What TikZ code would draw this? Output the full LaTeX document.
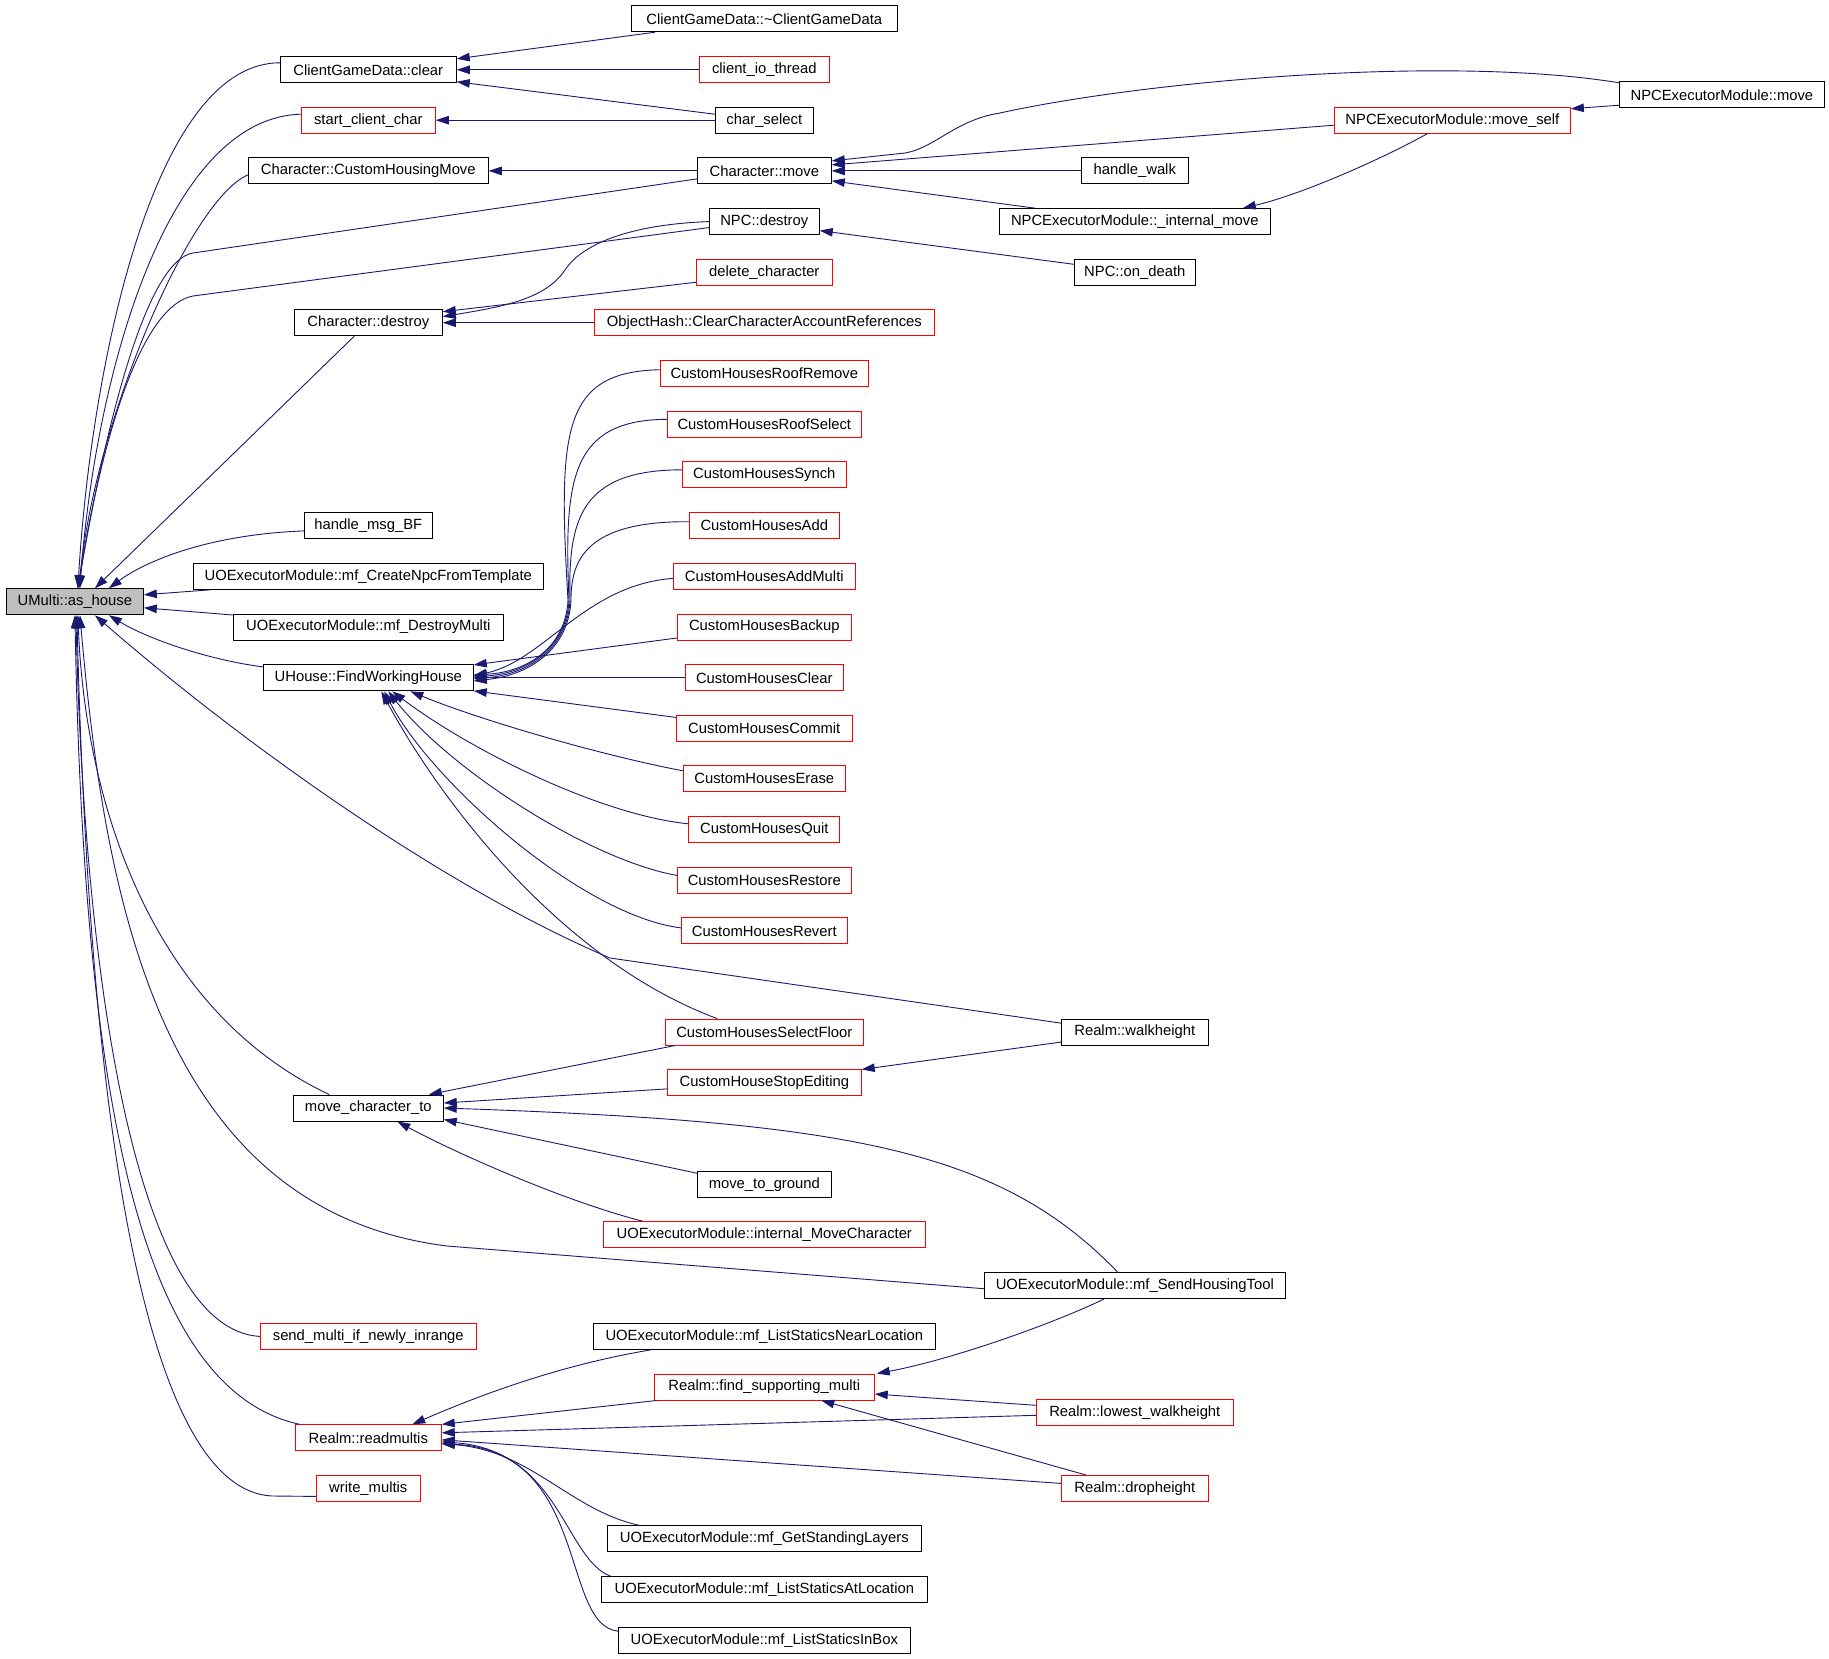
\documentclass[tikz,border=0pt]{standalone}
\usepackage{fontspec}
\setmainfont{Liberation Sans}
\usetikzlibrary{arrows.meta,calc}
\definecolor{edgecol}{HTML}{191970}
\definecolor{grayfill}{HTML}{BFBFBF}
\begin{document}
\begin{tikzpicture}[x=1pt,y=-1pt,
  box/.style={draw=black, line width=0.9pt, minimum height=26pt, inner sep=0pt, font=\fontsize{14.8}{16}\selectfont, text=black},
  rbox/.style={box, draw=red},
  cg/.style={color=edgecol, line width=0.9pt, arrows={Triangle[length=13pt,width=8.5pt]-}}]
\fill[white] (0,0) rectangle (1829,1659);
\useasboundingbox (0,0) rectangle (1829,1659);

% nodes
\node[box, fill=grayfill, minimum width=137pt] (ash) at (74.9,601.8) {UMulti::as\_house};
\node[box, minimum width=176pt] (cgdclear) at (368.3,69.8) {ClientGameData::clear};
\node[box, minimum width=266pt] (cgddtor) at (764.3,18.8) {ClientGameData::\textasciitilde ClientGameData};
\node[rbox, minimum width=130pt] (ciot) at (764.3,69.8) {client\_io\_thread};
\node[rbox, minimum width=134pt] (scc) at (368.3,120.2) {start\_client\_char};
\node[box, minimum width=98pt] (chsel) at (764.3,120.2) {char\_select};
\node[box, minimum width=240pt] (chmv) at (368.3,170.9) {Character::CustomHousingMove};
\node[box, minimum width=134pt] (cmove) at (764.3,170.9) {Character::move};
\node[box, minimum width=205pt] (npcmove) at (1721.9,94.8) {NPCExecutorModule::move};
\node[rbox, minimum width=236pt] (npcself) at (1452.4,120.2) {NPCExecutorModule::move\_self};
\node[box, minimum width=107pt] (hwalk) at (1134.8,170.9) {handle\_walk};
\node[box, minimum width=271pt] (npcint) at (1134.8,221.6) {NPCExecutorModule::\_internal\_move};
\node[box, minimum width=110pt] (npcdes) at (764.3,221.6) {NPC::destroy};
\node[rbox, minimum width=136pt] (delch) at (764.3,272.3) {delete\_character};
\node[box, minimum width=121pt] (ondeath) at (1134.8,272.3) {NPC::on\_death};
\node[box, minimum width=148pt] (chdes) at (368.3,322.7) {Character::destroy};
\node[rbox, minimum width=340pt] (ohash) at (764.3,322.7) {ObjectHash::ClearCharacterAccountReferences};
\node[rbox, minimum width=208pt] (rrem) at (764.3,373.7) {CustomHousesRoofRemove};
\node[rbox, minimum width=194pt] (rsel) at (764.3,424.3) {CustomHousesRoofSelect};
\node[rbox, minimum width=164pt] (synch) at (764.3,474.8) {CustomHousesSynch};
\node[rbox, minimum width=150pt] (add) at (764.3,525.7) {CustomHousesAdd};
\node[rbox, minimum width=182pt] (addm) at (764.3,576.4) {CustomHousesAddMulti};
\node[rbox, minimum width=174pt] (backup) at (764.3,627) {CustomHousesBackup};
\node[rbox, minimum width=158pt] (clear) at (764.3,677.9) {CustomHousesClear};
\node[rbox, minimum width=176pt] (commit) at (764.3,728.4) {CustomHousesCommit};
\node[rbox, minimum width=162pt] (erase) at (764.3,778.8) {CustomHousesErase};
\node[rbox, minimum width=151pt] (quit) at (764.3,829.8) {CustomHousesQuit};
\node[rbox, minimum width=174pt] (restore) at (764.3,880.4) {CustomHousesRestore};
\node[rbox, minimum width=166pt] (revert) at (764.3,930.9) {CustomHousesRevert};
\node[box, minimum width=128pt] (hmsg) at (368.3,525.9) {handle\_msg\_BF};
\node[box, minimum width=350pt] (createnpc) at (368.3,576.4) {UOExecutorModule::mf\_CreateNpcFromTemplate};
\node[box, minimum width=270pt] (destroymulti) at (368.3,627) {UOExecutorModule::mf\_DestroyMulti};
\node[box, minimum width=210pt] (fwh) at (368.3,677.9) {UHouse::FindWorkingHouse};
\node[rbox, minimum width=198pt] (selfloor) at (764.3,1032.1) {CustomHousesSelectFloor};
\node[box, minimum width=147pt] (walkh) at (1134.8,1032.1) {Realm::walkheight};
\node[rbox, minimum width=194pt] (stopedit) at (764.3,1082.9) {CustomHouseStopEditing};
\node[box, minimum width=150pt] (mct) at (368.3,1108) {move\_character\_to};
\node[box, minimum width=134pt] (mtg) at (764.3,1184.2) {move\_to\_ground};
\node[rbox, minimum width=322pt] (intmove) at (764.3,1234.7) {UOExecutorModule::internal\_MoveCharacter};
\node[box, minimum width=301pt] (sendh) at (1134.8,1285.7) {UOExecutorModule::mf\_SendHousingTool};
\node[rbox, minimum width=216pt] (smni) at (368.3,1336.4) {send\_multi\_if\_newly\_inrange};
\node[box, minimum width=342pt] (nearloc) at (764.3,1336.4) {UOExecutorModule::mf\_ListStaticsNearLocation};
\node[rbox, minimum width=220pt] (findsup) at (764.3,1387) {Realm::find\_supporting\_multi};
\node[rbox, minimum width=197pt] (lowwh) at (1134.8,1412.3) {Realm::lowest\_walkheight};
\node[rbox, minimum width=146pt] (readm) at (368.3,1437.8) {Realm::readmultis};
\node[rbox, minimum width=104pt] (writem) at (368.3,1488.4) {write\_multis};
\node[rbox, minimum width=147pt] (droph) at (1134.8,1488.4) {Realm::dropheight};
\node[box, minimum width=314pt] (getst) at (764.3,1538.7) {UOExecutorModule::mf\_GetStandingLayers};
\node[box, minimum width=326pt] (lsat) at (764.3,1589.7) {UOExecutorModule::mf\_ListStaticsAtLocation};
\node[box, minimum width=292pt] (lsbox) at (764.3,1640.1) {UOExecutorModule::mf\_ListStaticsInBox};

% edges into UMulti::as_house (top)
\draw[cg] ($(ash.north)+(3,0)$) .. controls (90,380) and (150,63) .. ($(cgdclear.west)+(0,-7)$);
\draw[cg] ($(ash.north)+(5,0)$) .. controls (95,380) and (165,118) .. ($(scc.west)+(0,-6)$);
\draw[cg] ($(ash.north)+(4,0)$) .. controls (95,420) and (190,200) .. ($(chmv.west)+(0,4)$);
\draw[cg] ($(ash.north)+(3,0)$) .. controls (110,400) and (150,260) .. (193,253) -- ($(cmove.west)+(0,8)$);
\draw[cg] ($(ash.north)+(3,0)$) .. controls (105,420) and (145,305) .. (193,296) -- ($(npcdes.west)+(0,6)$);
\draw[cg] ($(ash.north)+(20,0)$) -- ($(chdes.south)+(-14,0)$);
\draw[cg] ($(ash.north)+(34,0)$) .. controls (140,565) and (200,535) .. ($(hmsg.west)+(0,5)$);
% side
\draw[cg] ($(ash.east)+(0,-7)$) -- ($(createnpc.south west)+(17,0)$);
\draw[cg] ($(ash.east)+(0,6)$) -- ($(destroymulti.west)+(0,-12)$);
% bottom
\draw[cg] ($(ash.south)+(34,0)$) .. controls (150,640) and (210,660) .. ($(fwh.west)+(0,-11)$);
\draw[cg] ($(ash.south)+(20,0)$) .. controls (250,750) and (450,890) .. (610,958) -- ($(walkh.west)+(0,-9)$);
\draw[cg] ($(ash.south)+(3,0)$) .. controls (85,800) and (150,1010) .. ($(mct.north)+(-39,0)$);
\draw[cg] ($(ash.south)+(5,0)$) .. controls (105,900) and (160,1210) .. (447,1246) -- ($(sendh.west)+(0,3)$);
\draw[cg] ($(ash.south)+(1,0)$) .. controls (85,1000) and (140,1330) .. (smni.west);
\draw[cg] (ash.south) .. controls (84,1100) and (140,1390) .. ($(readm.north west)+(5,0)$);
\draw[cg] ($(ash.south)+(2,0)$) .. controls (90,1150) and (150,1490) .. (272,1496) -- ($(writem.west)+(0,8)$);

% ClientGameData::clear, start_client_char, CustomHousingMove
\draw[cg] ($(cgdclear.east)+(0,-11)$) -- ($(cgddtor.south west)+(24,0)$);
\draw[cg] (cgdclear.east) -- (ciot.west);
\draw[cg] ($(cgdclear.east)+(0,12)$) -- ($(chsel.west)+(0,-6)$);
\draw[cg] (scc.east) -- (chsel.west);
\draw[cg] (chmv.east) -- (cmove.west);

% Character::move
\draw[cg] ($(cmove.east)+(0,-10)$) -- (905,153) .. controls (935,148) and (955,120) .. (1000,113) .. controls (1150,80) and (1450,55) .. ($(npcmove.west)+(0,-12)$);
\draw[cg] ($(cmove.east)+(0,-6)$) -- ($(npcself.west)+(0,5)$);
\draw[cg] (cmove.east) -- (hwalk.west);
\draw[cg] ($(cmove.east)+(0,10)$) -- ($(npcint.north)+(-100,0)$);
\draw[cg] ($(npcself.north east)+(0,2)$) -- ($(npcmove.south west)+(0,-3)$);
\draw[cg] ($(npcint.north)+(108,0)$) .. controls (1300,195) and (1380,160) .. ($(npcself.south)+(-25,0)$);

% NPC::destroy, Character::destroy
\draw[cg] ($(npcdes.east)+(0,9)$) -- ($(ondeath.west)+(0,-8)$);
\draw[cg] ($(chdes.east)+(0,-6)$) .. controls (500,307) and (545,300) .. (565,270) .. controls (585,240) and (640,224) .. (npcdes.west);
\draw[cg] ($(chdes.east)+(0,-11)$) -- ($(delch.west)+(0,10)$);
\draw[cg] (chdes.east) -- (ohash.west);

% UHouse::FindWorkingHouse
\draw[cg] ($(fwh.east)+(0,-3)$) .. controls (530,672) and (566,645) .. (568,600) .. controls (558,430) and (562,372) .. ($(rrem.west)+(0,-4)$);
\draw[cg] ($(fwh.east)+(0,-1)$) .. controls (530,673) and (567,645) .. (569,600) .. controls (564,480) and (570,420) .. ($(rsel.west)+(0,-5)$);
\draw[cg] ($(fwh.east)+(0,1)$) .. controls (531,674) and (568,646) .. (570,600) .. controls (568,520) and (580,470) .. ($(synch.west)+(0,-5)$);
\draw[cg] ($(fwh.east)+(0,3)$) .. controls (532,675) and (569,647) .. (571,600) .. controls (571,561) and (585,521) .. ($(add.west)+(0,-4)$);
\draw[cg] ($(fwh.east)+(0,-2)$) .. controls (545,660) and (585,585) .. ($(addm.west)+(0,2)$);
\draw[cg] ($(fwh.east)+(0,-13)$) -- ($(backup.west)+(0,11)$);
\draw[cg] (fwh.east) -- (clear.west);
\draw[cg] ($(fwh.east)+(0,13)$) -- ($(commit.west)+(0,-11)$);
\draw[cg] ($(fwh.south)+(42,0)$) .. controls (480,720) and (600,755) .. ($(erase.west)+(0,-8)$);
\draw[cg] ($(fwh.south)+(24,0)$) .. controls (470,750) and (600,815) .. ($(quit.west)+(0,-6)$);
\draw[cg] ($(fwh.south)+(20,0)$) .. controls (450,770) and (590,860) .. ($(restore.west)+(0,-5)$);
\draw[cg] ($(fwh.south)+(16,0)$) .. controls (430,780) and (580,915) .. ($(revert.west)+(0,-3)$);
\draw[cg] ($(fwh.south)+(13,0)$) .. controls (440,800) and (560,960) .. ($(selfloor.north)+(-47,0)$);

% move_character_to
\draw[cg] ($(mct.north east)+(-15,0)$) -- ($(selfloor.south west)+(10,0)$);
\draw[cg] ($(mct.east)+(0,-5)$) -- ($(stopedit.west)+(0,6)$);
\draw[cg] (mct.east) .. controls (850,1122) and (1000,1150) .. ($(sendh.north)+(-17,0)$);
\draw[cg] ($(mct.south east)+(0,-2)$) -- ($(mtg.west)+(0,-11)$);
\draw[cg] ($(mct.south)+(29,0)$) .. controls (450,1150) and (560,1200) .. ($(intmove.north west)+(40,0)$);
\draw[cg] (stopedit.north east) -- ($(walkh.west)+(0,10)$);

% Realm::find_supporting_multi
\draw[cg] ($(findsup.north east)+(2,0)$) .. controls (950,1360) and (1050,1325) .. ($(sendh.south)+(-31,0)$);
\draw[cg] ($(findsup.east)+(0,7)$) -- ($(lowwh.west)+(0,-7)$);
\draw[cg] ($(findsup.south)+(57,0)$) -- ($(droph.north)+(-49,0)$);

% Realm::readmultis
\draw[cg] ($(readm.north)+(44,0)$) .. controls (480,1395) and (560,1365) .. ($(nearloc.south west)+(58,0)$);
\draw[cg] (readm.north east) -- ($(findsup.south west)+(3,0)$);
\draw[cg] ($(readm.east)+(0,-5)$) -- ($(lowwh.west)+(0,3)$);
\draw[cg] ($(readm.east)+(0,2)$) -- ($(droph.west)+(0,-5)$);
\draw[cg] ($(readm.east)+(0,6)$) .. controls (530,1450) and (570,1510) .. ($(getst.north west)+(32,0)$);
\draw[cg] ($(readm.east)+(0,4)$) .. controls (560,1450) and (565,1560) .. ($(lsat.north west)+(10,0)$);
\draw[cg] ($(readm.east)+(0,6)$) .. controls (590,1450) and (560,1625) .. ($(lsbox.west)+(0,-9)$);
\end{tikzpicture}
\end{document}
